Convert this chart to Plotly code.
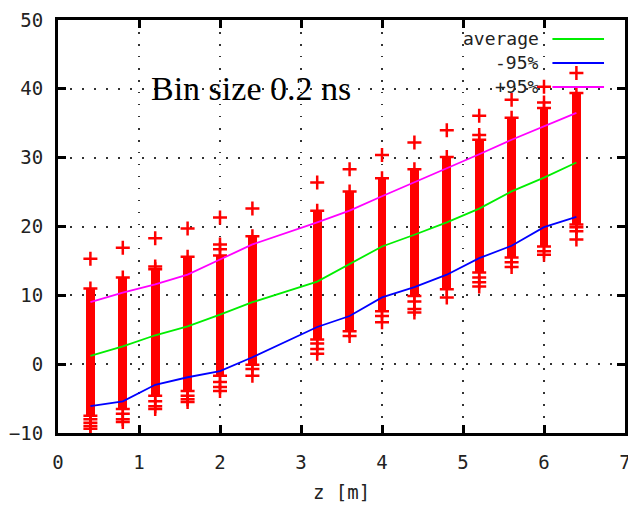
import plotly.graph_objects as go

# bin centres along z [m]
z_bins = [0.4, 0.8, 1.2, 1.6, 2.0, 2.4, 3.2, 3.6, 4.0, 4.4, 4.8, 5.2, 5.6, 6.0, 6.4]

# dense part of each column (bottom / top)
dense_lo = [-7.5, -6.5, -4.6, -3.9, -1.7, -0.1, 3.6, 4.8, 7.7, 9.9, 10.9, 13.3, 15.5, 17.1, 20.3]
dense_hi = [11.0, 12.6, 13.8, 15.6, 15.8, 18.6, 22.3, 25.1, 27.0, 28.3, 30.1, 32.6, 35.8, 37.2, 39.4]

# isolated points outside the dense part
out_z = [0.4, 0.4, 0.4, 0.4, 0.4,
         0.8, 0.8, 0.8, 0.8,
         1.2, 1.2, 1.2, 1.2, 1.2,
         1.6, 1.6, 1.6, 1.6,
         2.0, 2.0, 2.0, 2.0, 2.0, 2.0,
         2.4, 2.4, 2.4,
         3.2, 3.2, 3.2, 3.2,
         3.6, 3.6,
         4.0, 4.0, 4.0,
         4.4, 4.4, 4.4, 4.4,
         4.8, 4.8,
         5.2, 5.2, 5.2, 5.2, 5.2,
         5.6, 5.6, 5.6,
         6.0, 6.0, 6.0, 6.0,
         6.4, 6.4, 6.4, 6.4]
out_y = [15.3, -8.0, -8.5, -9.0, -9.4,
         16.9, -7.2, -8.0, -8.4,
         18.3, 14.2, -5.4, -6.1, -6.5,
         19.7, -4.6, -5.1, -5.5,
         21.3, 17.4, 16.7, -2.6, -3.3, -3.9,
         22.6, -0.7, -1.7,
         26.4, 3.0, 2.2, 1.5,
         28.3, 4.1,
         30.4, 7.0, 6.1,
         32.2, 9.1, 8.0, 7.5,
         34.0, 9.7,
         36.1, 33.3, 12.6, 11.9, 11.3,
         38.4, 14.8, 14.1,
         40.3, 38.0, 16.4, 15.9,
         42.3, 19.9, 19.3, 18.1]

# summary curves
average = [1.2, 2.6, 4.2, 5.5, 7.2, 9.0, 12.0, 14.6, 17.1, 18.8, 20.6, 22.6, 25.1, 27.1, 29.3]
minus95 = [-6.1, -5.4, -3.0, -1.9, -1.0, 1.0, 5.4, 7.0, 9.7, 11.2, 13.0, 15.4, 17.2, 19.9, 21.4]
plus95 = [9.0, 10.4, 11.6, 13.0, 15.2, 17.4, 20.6, 22.3, 24.4, 26.4, 28.4, 30.5, 32.6, 34.6, 36.5]

legend_names = ['average', '-95%', '+95%']
legend_colors = ['#00ee00', '#0000ff', '#ff00ff']

RED = '#ff0000'
MONO = 'DejaVu Sans Mono'

fig = go.Figure()

# dense columns as bars
fig.add_trace(go.Bar(
    x=z_bins,
    y=[h - l for h, l in zip(dense_hi, dense_lo)],
    base=dense_lo,
    width=0.11,
    marker=dict(color=RED, line=dict(width=0)),
    showlegend=False, hoverinfo='skip',
))

# + caps at column ends
fig.add_trace(go.Scatter(
    x=z_bins + z_bins, y=dense_lo + dense_hi,
    mode='markers',
    marker=dict(symbol='cross-thin', size=10, line=dict(color=RED, width=2.5)),
    showlegend=False, hoverinfo='skip',
))

# outliers
fig.add_trace(go.Scatter(
    x=out_z, y=out_y, mode='markers',
    marker=dict(symbol='cross-thin', size=10, line=dict(color=RED, width=2.5)),
    showlegend=False, hoverinfo='skip',
))

for series, col in zip([average, minus95, plus95], legend_colors):
    fig.add_trace(go.Scatter(x=z_bins, y=series, mode='lines',
                             line=dict(color=col, width=1.8),
                             showlegend=False, hoverinfo='skip'))

# gnuplot style key: text right aligned, sample to the right
key_rows = [0.954, 0.896, 0.838]
for name, col, ky in zip(legend_names, legend_colors, key_rows):
    fig.add_annotation(x=0.851, y=ky, xref='paper', yref='paper',
                       text=name, showarrow=False, xanchor='right', yanchor='middle',
                       font=dict(family=MONO, size=18, color='#222222'))
    fig.add_shape(type='line', xref='paper', yref='paper',
                  x0=0.872, x1=0.963, y0=ky, y1=ky,
                  line=dict(color=col, width=2))

fig.add_annotation(x=1.12, y=40, xref='x', yref='y', text='Bin size 0.2 ns',
                   showarrow=False, xanchor='left', yanchor='middle',
                   font=dict(family='Liberation Serif', size=34, color='black'))

axis_common = dict(
    showline=True, linecolor='black', linewidth=3, mirror='allticks',
    ticks='inside', ticklen=8, tickwidth=2.5, tickcolor='black',
    showgrid=True, gridcolor='#333333', gridwidth=1.5, griddash='1.5px,10.5px',
    zeroline=False, ticklabeloverflow='allow',
    tickfont=dict(family=MONO, size=19, color='#222222'),
)

fig.update_xaxes(range=[0, 7], dtick=1, ticklabelstandoff=10,
                 title=dict(text='z [m]', font=dict(family=MONO, size=19, color='#222222'),
                            standoff=14),
                 **axis_common)
fig.update_yaxes(range=[-10, 50], dtick=10, ticklabelstandoff=8, **axis_common)

fig.update_layout(
    width=628, height=506,
    margin=dict(l=58, r=3, t=20, b=73, autoexpand=False),
    plot_bgcolor='white', paper_bgcolor='white',
    showlegend=False, bargap=0,
)

# drop the default page margin so the figure sits at the window corner
fig.write_html("out.html", config={'displayModeBar': False},
               post_script="document.body.style.margin='0';document.body.style.overflow='hidden';")
